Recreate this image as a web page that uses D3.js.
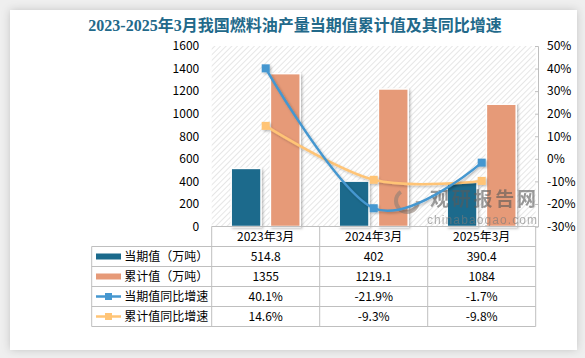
<!DOCTYPE html>
<html><head><meta charset="utf-8">
<script src="https://cdn.jsdelivr.net/npm/d3@7"></script>
<style>
html,body{margin:0;padding:0;background:#efefef;}
svg{display:block;}
text{font-family:"Noto Sans CJK SC","Liberation Sans",sans-serif;}
</style></head>
<body>
<svg id="c" width="585" height="358"></svg>
<script>
const title = "2023-2025年3月我国燃料油产量当期值累计值及其同比增速";
const categories = ["2023年3月","2024年3月","2025年3月"];
const currentValue = [514.8, 402, 390.4];
const cumulativeValue = [1355, 1219.1, 1084];
const currentYoY = [40.1, -21.9, -1.7];
const cumulativeYoY = [14.6, -9.3, -9.8];
const leftTicks = [0,200,400,600,800,1000,1200,1400,1600];
const rightTicks = [-30,-20,-10,0,10,20,30,40,50];
const seriesNames = ["当期值（万吨）","累计值（万吨）","当期值同比增速","累计值同比增速"];
const tableRows = [
  currentValue.map(v=>String(v)),
  cumulativeValue.map(v=>String(v)),
  currentYoY.map(v=>v+"%"),
  cumulativeYoY.map(v=>v+"%")
];
const colors = {cur:"#1b6a8c", cum:"#e69a78", curYoY:"#4597d0", cumYoY:"#ffc476", title:"#22698a", grid:"#bfbfbf"};

const svg = d3.select("#c");
const defs = svg.append("defs");
const card = defs.append("filter").attr("id","cardShadow").attr("x","-5%").attr("y","-5%").attr("width","110%").attr("height","110%");
card.append("feDropShadow").attr("dx",0).attr("dy",0).attr("stdDeviation",4).attr("flood-color","#000").attr("flood-opacity",0.18);
const sh = defs.append("filter").attr("id","sh").attr("x","-20%").attr("y","-20%").attr("width","160%").attr("height","160%");
sh.append("feDropShadow").attr("dx",1.5).attr("dy",1.5).attr("stdDeviation",1.2).attr("flood-color","#000").attr("flood-opacity",0.25);
const pat = defs.append("pattern").attr("id","hatch").attr("patternUnits","userSpaceOnUse").attr("width",4).attr("height",4).attr("patternTransform","rotate(45)");
pat.append("rect").attr("width",4).attr("height",4).attr("fill","#ffffff");
pat.append("line").attr("x1",0).attr("y1",0).attr("x2",0).attr("y2",4).attr("stroke","#d6d6d6").attr("stroke-width",1.2);

svg.append("rect").attr("width",585).attr("height",358).attr("fill","#efefef");
svg.append("rect").attr("x",10).attr("y",10).attr("width",567).attr("height",340).attr("fill","#fff").attr("filter","url(#cardShadow)");

svg.append("text").attr("x",295).attr("y",31).attr("text-anchor","middle")
  .attr("font-size",16).attr("font-weight","bold").attr("fill",colors.title)
  .style("font-family",'"Liberation Serif","Noto Sans CJK SC",serif').text(title);

const L = 211.7, R = 535.7, T = 46, B = 226.5;
const x = d3.scaleBand().domain(categories).range([L,R]);
const y = d3.scaleLinear().domain([0,1600]).range([B,T]);
const yR = d3.scaleLinear().domain([-30,50]).range([B,T]);
const inner = d3.scaleBand().domain(["cur","cum"]).range([19.5, 88.5]).paddingInner(0.24);

svg.append("rect").attr("x",L).attr("y",T).attr("width",R-L).attr("height",B-T).attr("fill","url(#hatch)");

// bars
const bars = svg.append("g");
categories.forEach((c,i)=>{
  bars.append("rect").attr("x",x(c)+inner("cur")).attr("y",y(currentValue[i])).attr("width",inner.bandwidth()).attr("height",B-y(currentValue[i]))
    .attr("fill",colors.cur).attr("stroke","#fff").attr("stroke-width",1.5).attr("filter","url(#sh)");
  bars.append("rect").attr("x",x(c)+inner("cum")).attr("y",y(cumulativeValue[i])).attr("width",inner.bandwidth()).attr("height",B-y(cumulativeValue[i]))
    .attr("fill",colors.cum).attr("stroke","#fff").attr("stroke-width",1.5).attr("filter","url(#sh)");
});

// axes
const la = svg.append("g").attr("transform",`translate(${L},0)`).call(d3.axisLeft(y).tickValues(leftTicks).tickFormat(d3.format("d")).tickSize(0).tickPadding(12.5));
la.select(".domain").remove();
la.selectAll("text").attr("font-size",12).attr("fill","#000").style("font-family","Noto Sans CJK SC,sans-serif");
const ra = svg.append("g").attr("transform",`translate(538,0)`).call(d3.axisRight(yR).tickValues(rightTicks).tickFormat(d=>d+"%").tickSizeInner(-3).tickSizeOuter(-3).tickPadding(9));
ra.select(".domain").attr("stroke","#bfbfbf");
ra.selectAll(".tick line").attr("stroke","#bfbfbf");
ra.selectAll("text").attr("font-size",12).attr("fill","#000").style("font-family","Noto Sans CJK SC,sans-serif");

// watermark
const wm = svg.append("g").attr("opacity",0.6);
wm.append("circle").attr("cx",407).attr("cy",201).attr("r",11).attr("fill","none").attr("stroke","#8f7f75").attr("stroke-width",4).attr("stroke-dasharray","45 25");
wm.append("text").attr("x",430).attr("y",206).attr("font-size",19).attr("font-weight","bold").attr("fill","#5a5a5a").attr("textLength",106).text("观研报告网");
wm.append("text").attr("x",427).attr("y",223.5).attr("font-size",12).attr("fill","#7a7a7a").attr("textLength",110).style("font-family","Liberation Sans,sans-serif").text("chinabaogao.com");

// lines
function drawLine(vals,col){
  const pts = categories.map((c,i)=>[x(c)+x.bandwidth()/2, yR(vals[i])]);
  const g = svg.append("g").attr("filter","url(#sh)");
  g.append("path").attr("d",d3.line().curve(d3.curveCardinal.tension(0))(pts)).attr("fill","none").attr("stroke",col).attr("stroke-width",2.5);
  g.selectAll("rect").data(pts).join("rect").attr("x",d=>d[0]-4).attr("y",d=>d[1]-4).attr("width",8).attr("height",8).attr("fill",col);
}
drawLine(cumulativeYoY, colors.cumYoY);
drawLine(currentYoY, colors.curYoY);

// table
const rowH = 20, tblLeft = 91.7;
const tg = svg.append("g").attr("stroke",colors.grid).attr("stroke-width",1).attr("fill","none");
tg.append("line").attr("x1",L).attr("x2",R).attr("y1",B).attr("y2",B);
for(let r=1;r<=5;r++){
  tg.append("line").attr("x1",tblLeft).attr("x2",R).attr("y1",B+r*rowH).attr("y2",B+r*rowH);
}
tg.append("line").attr("x1",tblLeft).attr("x2",tblLeft).attr("y1",B+rowH).attr("y2",B+5*rowH);
categories.forEach(c=>{
  tg.append("line").attr("x1",x(c)).attr("x2",x(c)).attr("y1",B).attr("y2",B+5*rowH);
});
tg.append("line").attr("x1",R).attr("x2",R).attr("y1",B).attr("y2",B+5*rowH);

const txt = svg.append("g").attr("font-size",12).attr("fill","#000");
categories.forEach(c=>{
  txt.append("text").attr("x",x(c)+x.bandwidth()/2).attr("y",B+rowH/2+0.5).attr("dy","0.36em").attr("text-anchor","middle").text(c);
});
tableRows.forEach((row,r)=>{
  const cy = B+(r+1)*rowH+rowH/2;
  row.forEach((v,i)=>{
    txt.append("text").attr("x",x(categories[i])+x.bandwidth()/2).attr("y",cy).attr("dy","0.36em").attr("text-anchor","middle").text(v);
  });
  txt.append("text").attr("x",124.3).attr("y",cy).attr("dy","0.36em").text(seriesNames[r]);
});
// legend swatches
const lg = svg.append("g");
const sw = [colors.cur, colors.cum];
sw.forEach((col,r)=>{
  const cy = B+(r+1)*rowH+rowH/2;
  lg.append("rect").attr("x",96).attr("y",cy-3).attr("width",25).attr("height",6).attr("fill",col);
});
[colors.curYoY, colors.cumYoY].forEach((col,k)=>{
  const cy = B+(k+3)*rowH+rowH/2;
  lg.append("line").attr("x1",96).attr("x2",121).attr("y1",cy).attr("y2",cy).attr("stroke",col).attr("stroke-width",2.5);
  lg.append("rect").attr("x",108.5-3.5).attr("y",cy-3.5).attr("width",7).attr("height",7).attr("fill",col);
});
</script>
</body></html>
